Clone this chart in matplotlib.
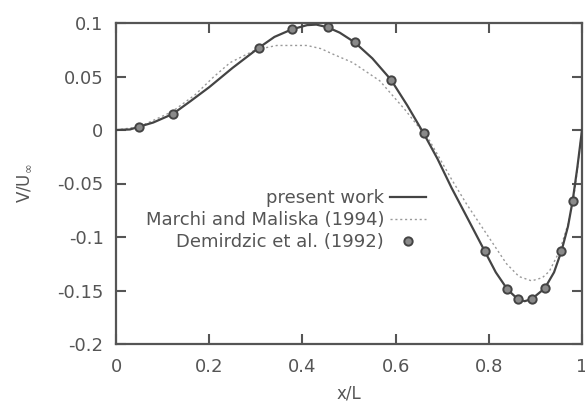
import matplotlib
matplotlib.use("Agg")
import matplotlib.pyplot as plt

# present work (solid line)
present_x = [0.0, 0.03, 0.049, 0.08, 0.122, 0.16, 0.2, 0.25, 0.307, 0.34, 0.377, 0.41, 0.43,
             0.454, 0.48, 0.512, 0.55, 0.59, 0.625, 0.66, 0.69, 0.72, 0.755, 0.791, 0.815,
             0.84, 0.862, 0.877, 0.892, 0.92, 0.94, 0.956, 0.97, 0.98, 0.99, 1.0]
present_v = [0.0, 0.0005, 0.003, 0.007, 0.015, 0.027, 0.040, 0.058, 0.077, 0.087, 0.094, 0.098, 0.0985,
             0.096, 0.091, 0.082, 0.067, 0.047, 0.023, -0.003, -0.027, -0.054, -0.083, -0.113, -0.133,
             -0.149, -0.158, -0.160, -0.158, -0.148, -0.133, -0.113, -0.090, -0.066, -0.035, 0.0]

# Marchi and Maliska (1994) (dotted line)
marchi_x = [0.0, 0.05, 0.12, 0.17, 0.208, 0.245, 0.3, 0.345, 0.41, 0.44, 0.465, 0.508, 0.566,
            0.62, 0.673, 0.72, 0.752, 0.795, 0.838, 0.865, 0.892, 0.915, 0.93, 0.952, 0.97,
            0.985, 1.0]
marchi_v = [0.0, 0.003, 0.017, 0.033, 0.049, 0.063, 0.075, 0.079, 0.079, 0.076, 0.071, 0.063, 0.046,
            0.019, -0.010, -0.046, -0.069, -0.097, -0.125, -0.137, -0.141, -0.138, -0.132, -0.113, -0.088,
            -0.055, 0.0]

# Demirdzic et al. (1992) (points)
demir_x = [0.049, 0.122, 0.307, 0.377, 0.454, 0.512, 0.590, 0.660, 0.791, 0.840, 0.862, 0.892,
           0.920, 0.956, 0.980]
demir_v = [0.003, 0.015, 0.077, 0.094, 0.096, 0.082, 0.047, -0.003, -0.113, -0.149, -0.158, -0.158,
           -0.148, -0.113, -0.066]

xticks = [0, 0.2, 0.4, 0.6, 0.8, 1.0]
xticklabels = ["0", "0.2", "0.4", "0.6", "0.8", "1"]
yticks = [-0.2, -0.15, -0.1, -0.05, 0, 0.05, 0.1]
yticklabels = ["-0.2", "-0.15", "-0.1", "-0.05", "0", "0.05", "0.1"]

txt = "#555555"
fig = plt.figure(figsize=(5.85, 4.04), dpi=100)
ax = fig.add_axes([116/585, 1-344/404, (582-116)/585, (344-23)/404])

ax.plot(present_x, present_v, color="#444444", lw=1.6, label="present work", zorder=3)
ax.plot(marchi_x, marchi_v, color="#999999", lw=1.0, ls=(0, (1.5, 2.0)),
        label="Marchi and Maliska (1994)", zorder=2)
ax.plot(demir_x, demir_v, ls="none", marker="o", ms=6.0, mfc="#8a8a8a", mec="#444444",
        mew=1.4, label="Demirdzic et al. (1992)", zorder=4)

ax.set_xlim(0, 1)
ax.set_ylim(-0.2, 0.1)
ax.set_xticks(xticks)
ax.set_xticklabels(xticklabels)
ax.set_yticks(yticks)
ax.set_yticklabels(yticklabels)
ax.tick_params(direction="in", length=7, width=1.5, color="#555555", top=True, right=True,
               labelsize=13, labelcolor=txt)
ax.tick_params(axis="x", pad=10)
ax.tick_params(axis="y", pad=9)
for s in ax.spines.values():
    s.set_color("#555555")
    s.set_linewidth(1.6)

ax.set_xlabel("x/L", fontsize=12, color=txt, labelpad=6)
ax.set_ylabel(r"V/U$_\infty$", fontsize=12, color=txt, labelpad=17)

leg = ax.legend(loc="upper right", bbox_to_anchor=(0.68, 0.505), frameon=False,
                markerfirst=False, fontsize=13, handlelength=2.0, handletextpad=0.3,
                labelspacing=0.22, borderaxespad=0)
for t in leg.get_texts():
    t.set_color(txt)
    t.set_ha("right")

fig.savefig("out.png", dpi=100)
